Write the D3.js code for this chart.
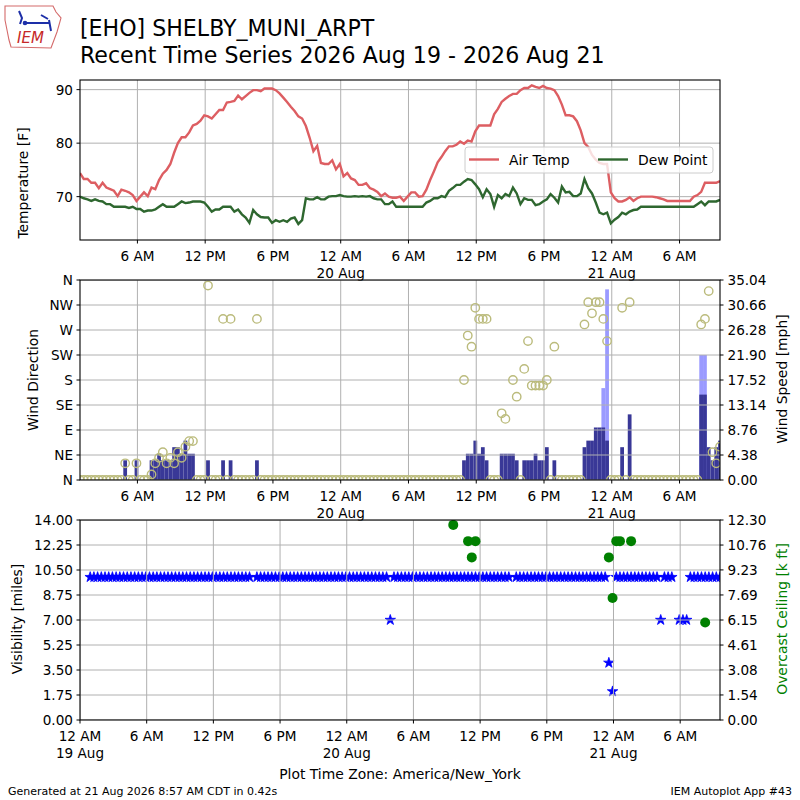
<!DOCTYPE html>
<html>
<head>
<meta charset="utf-8">
<script src="https://d3js.org/d3.v7.min.js"></script>
<style>
body { margin: 0; background: #fff; }
text { font-family: "DejaVu Sans", sans-serif; }
</style>
</head>
<body>
<div id="chart"></div>
<script>
// observations every 20 minutes, plotted in America/New_York
var obsStart = Date.UTC(2026, 7, 19, 0, 55);
var obsEnd = Date.UTC(2026, 7, 21, 9, 35);
var n = null;

var airTemp = [
74.4,73.3,73.3,72.6,72.6,71.6,72.6,71.7,71.4,71.1,
70.1,71.3,71.1,70.8,70.3,69.2,70.0,70.8,70.1,71.7,
71.4,73.1,74.3,75.0,76.1,78.2,80.0,81.1,81.1,82.0,
83.3,83.6,84.2,85.2,85.0,84.6,85.4,86.2,86.2,87.6,
87.7,87.9,88.9,88.2,88.8,89.4,89.9,89.9,89.7,90.2,
90.2,90.2,89.9,89.3,88.5,87.7,86.8,86.0,85.0,84.6,
83.2,81.0,78.5,79.5,76.3,76.1,76.1,76.8,75.1,76.1,
73.8,74.4,73.4,73.1,72.2,72.2,72.5,71.6,71.3,70.9,
70.1,70.6,70.0,69.8,69.8,70.0,69.2,70.0,70.8,70.8,
70.0,70.1,71.3,73.1,74.7,76.4,77.4,78.5,79.4,79.4,
79.7,80.3,79.9,80.5,80.3,82.2,83.3,83.3,83.3,83.3,
85.4,86.4,87.7,88.3,88.8,89.2,89.2,89.9,90.3,90.3,
90.8,90.5,90.3,90.7,90.3,90.2,89.9,88.8,87.2,85.2,
85.2,85.0,84.1,82.4,80.0,79.3,77.8,76.9,76.3,76.1,
76.1,70.8,69.7,69.1,69.1,69.4,69.9,69.2,69.7,70.0,
70.0,70.0,70.0,69.9,69.7,69.5,69.2,69.2,69.2,69.2,
69.2,69.2,69.2,70.0,70.3,70.9,72.6,72.6,72.6,72.6,
72.9];

var dewPoint = [
70.0,69.7,69.5,69.2,69.5,69.2,69.1,68.6,68.6,68.1,
68.1,68.1,68.1,67.9,68.1,67.7,67.7,67.2,67.4,67.4,
67.6,68.1,68.6,68.1,68.1,68.1,68.6,69.1,68.8,68.9,
69.1,69.1,69.1,68.9,68.1,67.2,67.6,67.6,68.1,68.1,
68.1,67.2,67.6,66.7,66.1,65.1,67.5,66.7,66.2,66.1,
66.1,65.1,65.6,65.3,65.6,65.3,65.9,66.1,64.9,65.6,
69.7,69.5,69.5,69.9,69.5,69.5,70.0,70.1,70.1,70.3,
70.1,70.0,70.0,70.1,70.0,70.1,70.0,70.1,69.7,69.5,
69.5,68.6,68.6,69.1,68.1,68.1,68.1,68.1,68.1,68.1,
68.1,68.1,68.9,69.2,69.7,69.7,70.1,69.9,71.1,71.6,
72.2,72.2,72.8,73.3,73.1,72.3,71.4,69.9,71.4,70.5,
68.1,70.3,69.7,70.5,70.1,71.7,70.6,68.6,69.7,69.4,
69.4,68.4,68.6,69.1,69.5,70.5,69.8,68.9,71.9,70.8,
70.9,70.1,70.1,70.6,73.3,71.6,70.6,68.9,67.0,66.7,
67.0,65.0,65.7,66.2,67.0,66.7,67.2,67.5,67.6,68.1,
68.1,68.1,68.1,68.1,68.1,68.1,68.1,68.1,68.1,68.1,
68.1,68.1,68.1,68.1,68.6,69.1,68.4,69.1,69.1,69.1,
69.4];

// degrees, 0 = calm, null = variable
var windDir = [
0,0,0,0,0,0,0,0,0,0,
0,0,30,0,0,30,0,0,0,10,
30,40,50,30,40,30,50,40,60,70,
70,0,0,0,350,0,0,0,290,0,
290,0,0,0,0,0,0,290,0,0,
0,0,0,0,0,0,0,0,0,0,
0,0,0,0,0,0,0,0,0,0,
0,0,0,0,0,0,0,0,0,0,
0,0,0,0,0,0,0,0,0,0,
0,0,0,0,0,0,0,0,0,0,
0,0,180,260,240,310,290,290,290,0,
0,0,120,110,n,180,150,0,200,250,
170,170,170,170,180,0,240,0,0,0,
0,0,0,0,280,320,300,320,320,290,
250,0,0,0,310,0,320,0,0,0,
0,0,0,0,0,0,0,0,0,0,
0,0,0,0,0,280,290,340,50,30,
60];

// mph
var windSpeed = [
0,0,0,0,0,0,0,0,0,0,
0,0,3.45,0,0,3.45,0,0,0,3.45,
3.45,4.6,3.45,3.45,3.45,5.75,5.75,4.6,6.9,4.6,
4.6,0,0,0,3.45,0,0,0,3.45,0,
3.45,0,0,0,0,0,0,3.45,0,0,
0,0,0,0,0,0,0,0,0,0,
0,0,0,0,0,0,0,0,0,0,
0,0,0,0,0,0,0,0,0,0,
0,0,0,0,0,0,0,0,0,0,
0,0,0,0,0,0,0,0,0,0,
0,0,3.45,4.6,4.6,6.9,4.6,5.75,3.45,0,
0,0,4.6,4.6,4.6,4.6,3.45,0,3.45,3.45,
3.45,4.6,3.45,3.45,5.75,0,3.45,0,0,0,
0,0,0,0,5.75,6.9,6.9,9.2,9.2,9.2,
6.9,0,0,0,5.75,0,11.5,0,0,0,
0,0,0,0,0,0,0,0,0,0,
0,0,0,0,0,14.96,14.96,5.75,3.45,5.75,
6.9];

var windGust = [
0,0,0,0,0,0,0,0,0,0,
0,0,0,0,0,0,0,0,0,0,
0,0,0,0,0,0,0,0,0,0,
0,0,0,0,0,0,0,0,0,0,
0,0,0,0,0,0,0,0,0,0,
0,0,0,0,0,0,0,0,0,0,
0,0,0,0,0,0,0,0,0,0,
0,0,0,0,0,0,0,0,0,0,
0,0,0,0,0,0,0,0,0,0,
0,0,0,0,0,0,0,0,0,0,
0,0,0,0,0,0,0,0,0,0,
0,0,0,0,0,0,0,0,0,0,
0,0,0,0,0,0,0,0,0,0,
0,0,0,0,0,0,0,0,0,16.1,
33.4,0,0,0,0,0,0,0,0,0,
0,0,0,0,0,0,0,0,0,0,
0,0,0,0,0,21.9,21.9,0,0,0,
0];

// miles
var visibility = [
10,10,10,10,10,10,10,10,10,10,
10,10,10,10,10,10,10,10,10,10,
10,10,10,10,10,10,10,10,10,10,
10,10,10,10,10,10,10,10,10,10,
10,10,10,10,n,10,10,10,10,10,
10,10,10,10,10,10,10,10,10,10,
10,10,10,10,10,10,10,10,10,10,
10,10,10,10,10,10,10,10,10,10,
10,7,10,10,10,10,10,10,10,10,
10,10,10,10,10,10,10,10,10,10,
10,10,10,10,10,10,10,10,10,10,
10,10,10,10,n,10,10,10,10,10,
10,10,10,10,10,10,10,10,10,10,
10,10,10,10,10,10,10,10,10,10,
4,2,10,10,10,10,10,10,10,10,
10,10,10,10,7,10,10,10,n,7,
7,7,10,10,10,10,10,10,10,10,
10];

// overcast ceiling, thousands of feet
var ceiling = [
n,n,n,n,n,n,n,n,n,n, n,n,n,n,n,n,n,n,n,n,
n,n,n,n,n,n,n,n,n,n, n,n,n,n,n,n,n,n,n,n,
n,n,n,n,n,n,n,n,n,n, n,n,n,n,n,n,n,n,n,n,
n,n,n,n,n,n,n,n,n,n, n,n,n,n,n,n,n,n,n,n,
n,n,n,n,n,n,n,n,n,n, n,n,n,n,n,n,n,n,12.0,n,
n,n,11.0,10.0,11.0,n,n,n,n,n, n,n,n,n,n,n,n,n,n,n,
n,n,n,n,n,n,n,n,n,n, n,n,n,n,n,n,n,n,n,n,
10.0,7.5,11.0,11.0,n,n,11.0,n,n,n, n,n,n,n,n,n,n,n,n,n,
n,n,n,n,n,n,6.0,n,n,n,
n];

var tempTicks = [70, 80, 90];
var dirTicks = [0, 45, 90, 135, 180, 225, 270, 315, 360];
var dirLabels = ["N", "NE", "E", "SE", "S", "SW", "W", "NW", "N"];
var speedTicks = [0, 4.38, 8.76, 13.14, 17.52, 21.90, 26.28, 30.66, 35.04];
var visTicks = [0, 1.75, 3.50, 5.25, 7.00, 8.75, 10.50, 12.25, 14.00];
var ceilTicks = [0, 1.54, 3.08, 4.61, 6.15, 7.69, 9.23, 10.76, 12.30];

var times = d3.utcMinute.range(new Date(obsStart), new Date(obsEnd + 60000), 20);

var svg = d3.select("#chart").append("svg")
    .attr("width", 800).attr("height", 800);

var fmtHour = d3.utcFormat("%-I %p"),
    fmtDay = d3.utcFormat("%-d %b");

var L = 80, R = 720;
var panels = [
    {id: "p1", top: 80, bottom: 240},
    {id: "p2", top: 280, bottom: 480},
    {id: "p3", top: 520, bottom: 720}
];

var xTop = d3.scaleUtc().domain([times[0], times[times.length - 1]]).range([L, R]);
var xBot = d3.scaleUtc().domain([d3.utcDay.floor(times[0]), times[times.length - 1]]).range([L, R]);

var yTemp = d3.scaleLinear().domain([61.9, 91.8]).range([240, 80]);
var yDir = d3.scaleLinear().domain([0, 360]).range([480, 280]);
var ySpd = d3.scaleLinear().domain([0, 35.04]).range([480, 280]);
var yVis = d3.scaleLinear().domain([0, 14]).range([720, 520]);
var yCeil = d3.scaleLinear().domain([0, 12.3]).range([720, 520]);

var defs = svg.append("defs");
panels.forEach(function(p) {
    defs.append("clipPath").attr("id", "clip-" + p.id)
      .append("rect").attr("x", L).attr("y", p.top)
        .attr("width", R - L).attr("height", p.bottom - p.top);
});

var gridColor = "#b0b0b0";

function grid(g, x, p, yScale, yVals) {
    x.ticks(d3.utcHour.every(6)).forEach(function(d) {
        g.append("line").attr("x1", x(d)).attr("x2", x(d))
            .attr("y1", p.top).attr("y2", p.bottom)
            .attr("stroke", gridColor).attr("stroke-width", 1);
    });
    yVals.forEach(function(v) {
        g.append("line").attr("x1", L).attr("x2", R)
            .attr("y1", yScale(v)).attr("y2", yScale(v))
            .attr("stroke", gridColor).attr("stroke-width", 1);
    });
}

function xTicks(x, p) {
    var g = svg.append("g").attr("font-size", 13.6);
    x.ticks(d3.utcHour.every(6)).forEach(function(d) {
        var px = x(d);
        g.append("line").attr("x1", px).attr("x2", px)
            .attr("y1", p.bottom).attr("y2", p.bottom + 3.5).attr("stroke", "#000");
        g.append("text").attr("x", px).attr("y", p.bottom + 21)
            .attr("text-anchor", "middle").text(fmtHour(d));
        if (d.getUTCHours() === 0) {
            g.append("text").attr("x", px).attr("y", p.bottom + 37.5)
                .attr("text-anchor", "middle").text(fmtDay(d));
        }
    });
}

function yTicksLeft(scale, vals, labels) {
    var g = svg.append("g").attr("font-size", 13.6);
    vals.forEach(function(v, i) {
        g.append("line").attr("x1", L - 3.5).attr("x2", L)
            .attr("y1", scale(v)).attr("y2", scale(v)).attr("stroke", "#000");
        g.append("text").attr("x", L - 7).attr("y", scale(v)).attr("dy", "0.36em")
            .attr("text-anchor", "end").text(labels[i]);
    });
}

function yTicksRight(scale, vals) {
    var g = svg.append("g").attr("font-size", 13.6);
    vals.forEach(function(v) {
        g.append("line").attr("x1", R).attr("x2", R + 3.5)
            .attr("y1", scale(v)).attr("y2", scale(v)).attr("stroke", "#000");
        g.append("text").attr("x", R + 7.5).attr("y", scale(v)).attr("dy", "0.36em")
            .attr("text-anchor", "start").text(v.toFixed(2));
    });
}

function frame(p) {
    svg.append("rect").attr("x", L).attr("y", p.top)
        .attr("width", R - L).attr("height", p.bottom - p.top)
        .attr("fill", "none").attr("stroke", "#000").attr("stroke-width", 1.1);
}

function vLabel(txt, x, y, color) {
    svg.append("text").attr("transform", "translate(" + x + "," + y + ") rotate(-90)")
        .attr("text-anchor", "middle").attr("dy", "0.36em")
        .attr("font-size", 13.9).attr("fill", color || "#000").text(txt);
}

var obs = times.map(function(t, i) {
    return {t: t, temp: airTemp[i], dwpt: dewPoint[i], dir: windDir[i],
            spd: windSpeed[i], gust: windGust[i], vis: visibility[i], ceil: ceiling[i]};
});

// ---- panel 1: temperature / dew point
var p1 = panels[0];
var g1 = svg.append("g");
grid(g1, xTop, p1, yTemp, tempTicks);
var c1 = svg.append("g").attr("clip-path", "url(#clip-p1)");
var tempColor = "#dd5e62", dewColor = "#2e672f";
c1.append("path").datum(obs)
    .attr("d", d3.line().x(function(d) { return xTop(d.t); }).y(function(d) { return yTemp(d.temp); }))
    .attr("fill", "none").attr("stroke", tempColor).attr("stroke-width", 2.4);
c1.append("path").datum(obs)
    .attr("d", d3.line().x(function(d) { return xTop(d.t); }).y(function(d) { return yTemp(d.dwpt); }))
    .attr("fill", "none").attr("stroke", dewColor).attr("stroke-width", 2.4);

var lg = svg.append("g").attr("font-size", 13.9);
lg.append("rect").attr("x", 465).attr("y", 147).attr("width", 248).attr("height", 26)
    .attr("rx", 3).attr("fill", "#fff").attr("fill-opacity", 0.8)
    .attr("stroke", "#cccccc").attr("stroke-width", 1);
lg.append("line").attr("x1", 469).attr("x2", 499).attr("y1", 159.5).attr("y2", 159.5)
    .attr("stroke", tempColor).attr("stroke-width", 2.4);
lg.append("text").attr("x", 509).attr("y", 159.5).attr("dy", "0.36em").text("Air Temp");
lg.append("line").attr("x1", 598).attr("x2", 628).attr("y1", 159.5).attr("y2", 159.5)
    .attr("stroke", dewColor).attr("stroke-width", 2.4);
lg.append("text").attr("x", 638).attr("y", 159.5).attr("dy", "0.36em").text("Dew Point");

frame(p1);
xTicks(xTop, p1);
yTicksLeft(yTemp, tempTicks, tempTicks.map(String));
vLabel("Temperature [F]", 23, 183);

// ---- panel 2: wind
var p2 = panels[1];
var bw = xTop(times[1]) - xTop(times[0]);
var c2 = svg.append("g").attr("clip-path", "url(#clip-p2)");
c2.selectAll("rect.gust").data(obs.filter(function(d) { return d.gust > 0; }))
  .enter().append("rect").attr("class", "gust")
    .attr("x", function(d) { return xTop(d.t) - bw / 2; })
    .attr("width", bw)
    .attr("y", function(d) { return ySpd(d.gust); })
    .attr("height", function(d) { return ySpd(0) - ySpd(d.gust); })
    .attr("fill", "#9a9aff");
c2.selectAll("rect.spd").data(obs.filter(function(d) { return d.spd > 0; }))
  .enter().append("rect").attr("class", "spd")
    .attr("x", function(d) { return xTop(d.t) - bw / 2; })
    .attr("width", bw)
    .attr("y", function(d) { return ySpd(d.spd); })
    .attr("height", function(d) { return ySpd(0) - ySpd(d.spd); })
    .attr("fill", "#393897");
grid(c2, xTop, p2, yDir, dirTicks);
c2.selectAll("circle.dir").data(obs.filter(function(d) { return d.dir !== null; }))
  .enter().append("circle").attr("class", "dir")
    .attr("cx", function(d) { return xTop(d.t); })
    .attr("cy", function(d) { return yDir(d.dir); })
    .attr("r", 4.2)
    .attr("fill", "none").attr("stroke", "#bbbb7c").attr("stroke-width", 1.4);
frame(p2);
xTicks(xTop, p2);
yTicksLeft(yDir, dirTicks, dirLabels);
yTicksRight(ySpd, speedTicks);
vLabel("Wind Direction", 33, 380);
vLabel("Wind Speed [mph]", 782, 379);

// ---- panel 3: visibility / ceiling
var p3 = panels[2];
var c3 = svg.append("g").attr("clip-path", "url(#clip-p3)");
var star = d3.symbol().type(d3.symbolStar).size(34);
c3.selectAll("path.vis").data(obs.filter(function(d) { return d.vis !== null; }))
  .enter().append("path").attr("class", "vis")
    .attr("transform", function(d) { return "translate(" + xBot(d.t) + "," + yVis(d.vis) + ")"; })
    .attr("d", star)
    .attr("fill", "#0000ff").attr("stroke", "#0000ff").attr("stroke-width", 0.8);
grid(c3, xBot, p3, yVis, visTicks);
c3.selectAll("circle.ceil").data(obs.filter(function(d) { return d.ceil !== null; }))
  .enter().append("circle").attr("class", "ceil")
    .attr("cx", function(d) { return xBot(d.t); })
    .attr("cy", function(d) { return yCeil(d.ceil); })
    .attr("r", 5)
    .attr("fill", "#008000");
frame(p3);
xTicks(xBot, p3);
yTicksLeft(yVis, visTicks, visTicks.map(function(v) { return v.toFixed(2); }));
yTicksRight(yCeil, ceilTicks);
vLabel("Visibility [miles]", 17, 619);
vLabel("Overcast Ceiling [k ft]", 782, 619, "#008000");

// ---- titles and footer
svg.append("text").attr("x", 80).attr("y", 36).attr("font-size", 22.1)
    .text("[EHO] SHELBY_MUNI_ARPT");
svg.append("text").attr("x", 80).attr("y", 63).attr("font-size", 22.1)
    .text("Recent Time Series 2026 Aug 19 - 2026 Aug 21");
svg.append("text").attr("x", 400).attr("y", 779).attr("text-anchor", "middle")
    .attr("font-size", 13.9).text("Plot Time Zone: America/New_York");
svg.append("text").attr("x", 8).attr("y", 795).attr("font-size", 11)
    .text("Generated at 21 Aug 2026 8:57 AM CDT in 0.42s");
svg.append("text").attr("x", 792).attr("y", 795).attr("font-size", 11)
    .attr("text-anchor", "end").text("IEM Autoplot App #43");

// ---- logo (Iowa outline with a station symbol)
var logo = svg.append("g");
logo.append("path")
    .attr("d", "M5,6 L53,6 L56,12 L61,18 L59,25 L57,32 L54,40 L51,48 L11,47 L9,40 L7,30 L5,20 Z")
    .attr("fill", "#fff").attr("stroke", "#d46a6a").attr("stroke-width", 1.1);
logo.append("path").attr("d", "M19,11 L22,18 L20,24 M24,23 L50,23 M41,15 L48,19 M49,20 L51,31")
    .attr("stroke", "#1d2fa8").attr("stroke-width", 2).attr("fill", "none");
logo.append("circle").attr("cx", 25).attr("cy", 23).attr("r", 2.3).attr("fill", "#1d2fa8");
logo.append("text").attr("x", 17).attr("y", 43).attr("font-size", 15)
    .attr("font-family", "'DejaVu Serif', serif").attr("font-style", "italic")
    .attr("fill", "#c62828").text("IEM");
</script>
</body>
</html>
